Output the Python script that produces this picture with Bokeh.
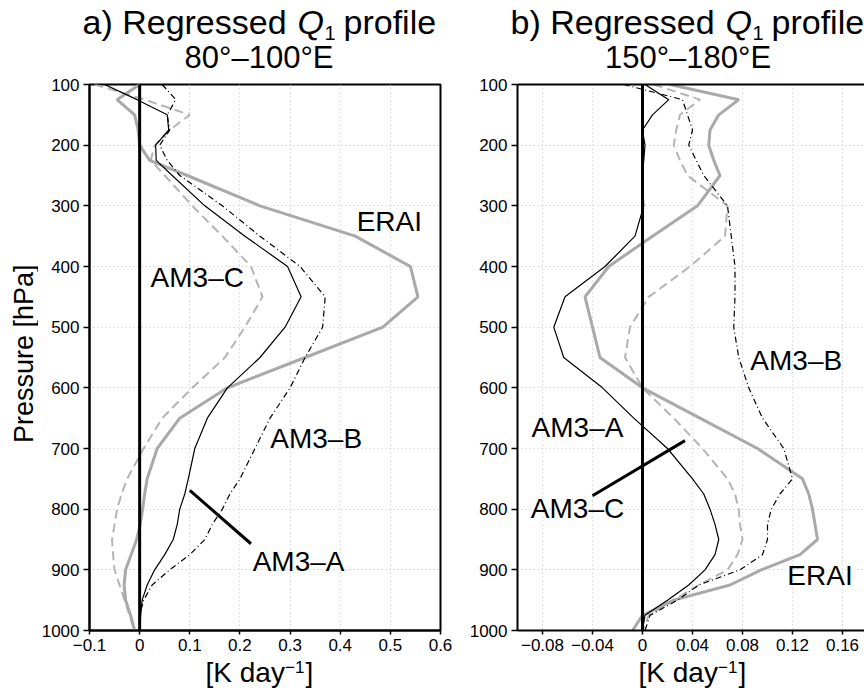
from bokeh.plotting import figure
from bokeh.models import Range1d, FixedTicker, Span, Label, LinearAxis
from bokeh.layouts import row, column
from bokeh.embed import file_html
from bokeh.resources import INLINE

# ---------------- data ----------------
P_LEVELS = [100, 125, 150, 175, 200, 225, 250, 300, 350, 400, 450, 500, 550, 600,
            650, 700, 750, 775, 800, 825, 850, 875, 900, 925, 950, 975, 1000]

# panel a) 80-100E
A_ERAI = [0.0, -0.045, -0.01, -0.003, 0.0, 0.02, 0.095, 0.24, 0.43, 0.54, 0.555, 0.485, 0.33, 0.175,
          0.08, 0.035, 0.015, 0.01, 0.006, 0.001, -0.006, -0.017, -0.028, -0.031, -0.028, -0.018, -0.01]
A_AM3A = [-0.07, -0.005, 0.055, 0.058, 0.032, 0.033, 0.065, 0.13, 0.21, 0.295, 0.322, 0.29, 0.24, 0.175,
          0.135, 0.11, 0.097, 0.09, 0.08, 0.075, 0.067, 0.05, 0.03, 0.015, 0.005, 0.002, 0.0]
A_AM3B = [0.045, 0.072, 0.055, 0.06, 0.04, 0.055, 0.08, 0.165, 0.24, 0.32, 0.37, 0.365, 0.33, 0.3,
          0.26, 0.23, 0.2, 0.18, 0.165, 0.145, 0.13, 0.1, 0.06, 0.025, 0.008, 0.0, 0.0]
A_AM3C = [-0.09, 0.01, 0.1, 0.06, 0.03, 0.022, 0.05, 0.105, 0.165, 0.222, 0.245, 0.21, 0.17, 0.105,
          0.045, 0.008, -0.025, -0.036, -0.045, -0.05, -0.055, -0.053, -0.05, -0.04, -0.03, -0.02, -0.01]

# panel b) 150-180E
B_ERAI = [0.022, 0.077, 0.061, 0.054, 0.053, 0.057, 0.062, 0.044, 0.008, -0.027, -0.046, -0.04, -0.034, 0.0,
          0.046, 0.092, 0.128, 0.133, 0.136, 0.138, 0.14, 0.126, 0.095, 0.07, 0.025, 0.0, -0.008]
B_AM3A = [0.002, 0.021, 0.008, 0.0, 0.002, 0.001, 0.0, 0.001, -0.006, -0.03, -0.062, -0.071, -0.063, -0.032,
          -0.007, 0.02, 0.04, 0.049, 0.054, 0.058, 0.061, 0.058, 0.05, 0.037, 0.02, 0.002, 0.0]
B_AM3B = [-0.015, 0.032, 0.036, 0.04, 0.037, 0.043, 0.049, 0.068, 0.071, 0.074, 0.074, 0.073, 0.077, 0.085,
          0.096, 0.113, 0.12, 0.11, 0.103, 0.1, 0.1, 0.096, 0.078, 0.045, 0.028, 0.006, 0.002]
B_AM3C = [0.009, 0.046, 0.03, 0.027, 0.025, 0.03, 0.036, 0.068, 0.066, 0.038, 0.005, -0.01, -0.014, 0.0,
          0.025, 0.048, 0.068, 0.074, 0.077, 0.078, 0.08, 0.076, 0.068, 0.045, 0.025, 0.005, 0.0]

# ticks
Y_TICKS = [100, 200, 300, 400, 500, 600, 700, 800, 900, 1000]
Y_LABELS = ["100", "200", "300", "400", "500", "600", "700", "800", "900", "1000"]
XA_TICKS = [-0.1, 0.0, 0.1, 0.2, 0.3, 0.4, 0.5, 0.6]
XA_LABELS = ["\u22120.1", "0", "0.1", "0.2", "0.3", "0.4", "0.5", "0.6"]
XB_TICKS = [-0.08, -0.04, 0.0, 0.04, 0.08, 0.12, 0.16]
XB_LABELS = ["\u22120.08", "\u22120.04", "0", "0.04", "0.08", "0.12", "0.16"]

FONT = "Liberation Sans"
GRAY = "#a9a9a9"
GRAY_D = "#b4b4b4"

TOP_H = 74
MAIN_H = 584
BOT_H = 35
YLAB_W = 38


def make_panel(width, border_left, border_right, xr, xticks, xlabels, framed):
    p = figure(width=width, height=MAIN_H, x_range=Range1d(*xr), y_range=Range1d(1000, 100),
               output_backend="svg", toolbar_location=None,
               min_border_left=border_left, min_border_right=border_right,
               min_border_top=84 - TOP_H, min_border_bottom=28)
    p.background_fill_color = "white"
    p.border_fill_color = "white"
    xa = p.xaxis[0]
    ya = p.yaxis[0]
    xa.ticker = FixedTicker(ticks=xticks)
    xa.major_label_overrides = dict(zip(xticks, xlabels))
    ya.ticker = FixedTicker(ticks=Y_TICKS)
    ya.major_label_overrides = dict(zip(Y_TICKS, Y_LABELS))
    for ax in (xa, ya):
        ax.axis_line_width = 2
        ax.axis_line_color = "black"
        ax.major_tick_line_width = 1.5
        ax.major_tick_in = 0
        ax.minor_tick_line_color = None
        ax.major_label_text_font = FONT
        ax.major_label_text_font_size = "17px"
        ax.major_label_text_color = "black"
    xa.major_tick_out = 4
    xa.major_label_standoff = 4
    ya.major_tick_out = 6
    ya.major_label_standoff = 4
    p.xgrid.grid_line_color = "#c4c4c4"
    p.ygrid.grid_line_color = "#c4c4c4"
    p.xgrid.grid_line_dash = "1 3"
    p.ygrid.grid_line_dash = "1 3"
    if framed:
        p.outline_line_color = "black"
        p.outline_line_width = 2
        p.outline_line_alpha = 1
    else:
        p.outline_line_color = None
        top = LinearAxis(ticker=FixedTicker(ticks=[]), major_tick_line_color=None,
                         major_tick_out=0, major_tick_in=0, major_label_standoff=0,
                         minor_tick_line_color=None, major_label_text_font_size="0px",
                         axis_line_width=2, axis_line_color="black")
        p.add_layout(top, "above")
    return p


def add_profiles(p, erai, am3a, am3b, am3c):
    p.line(am3c, P_LEVELS, line_color=GRAY_D, line_width=2, line_dash="9 5")
    p.line(erai, P_LEVELS, line_color=GRAY, line_width=3)
    p.line(am3b, P_LEVELS, line_color="black", line_width=1.2, line_dash="6 3 1 3")
    p.line(am3a, P_LEVELS, line_color="black", line_width=1.2)
    p.add_layout(Span(location=0, dimension="height", line_color="black", line_width=3))


def txt(p, x, y, text, size="28px", align="center", style="normal", angle=0):
    p.add_layout(Label(x=x, y=y, text=text, text_font=FONT, text_font_size=size, text_align=align,
                       text_baseline="middle", text_font_style=style,
                       text_color="black", angle=angle, angle_units="deg"))


def blank(width, height, xr, yr):
    # a text-only strip whose data coordinates are page pixels
    f = figure(width=width, height=height, x_range=Range1d(*xr), y_range=Range1d(*yr),
               output_backend="svg", toolbar_location=None, x_axis_type=None, y_axis_type=None,
               min_border=0)
    f.outline_line_color = None
    f.grid.visible = False
    f.background_fill_color = "white"
    f.border_fill_color = "white"
    return f


# ---------------- panel a ----------------
pa = make_panel(458 - YLAB_W, 89 - YLAB_W, 18, (-0.1, 0.6), XA_TICKS, XA_LABELS, True)
add_profiles(pa, A_ERAI, A_AM3A, A_AM3B, A_AM3C)
pa.line([0.1, 0.222], [769, 857], line_color="black", line_width=3)
txt(pa, 0.498, 325, "ERAI")
txt(pa, 0.115, 418, "AM3\u2013C")
txt(pa, 0.352, 683, "AM3\u2013B")
txt(pa, 0.317, 886, "AM3\u2013A")

# ---------------- panel b ----------------
pb = make_panel(406, 59, 0, (-0.1, 0.1776), XB_TICKS, XB_LABELS, False)
add_profiles(pb, B_ERAI, B_AM3A, B_AM3B, B_AM3C)
pb.line([-0.040, 0.034], [778, 687], line_color="black", line_width=3)
txt(pb, 0.123, 555, "AM3\u2013B")
txt(pb, -0.052, 665, "AM3\u2013A")
txt(pb, -0.052, 799, "AM3\u2013C")
txt(pb, 0.142, 909, "ERAI")

# ---------------- titles (page-pixel coordinates, text centres) ----------------
tfig = blank(864, TOP_H, (0, 864), (TOP_H, 0))
for x0, letter, region, rc in ((82, "a", "80\u00b0\u2013100\u00b0E", 258.5),
                               (510, "b", "150\u00b0\u2013180\u00b0E", 687.5)):
    txt(tfig, x0, 21.5, letter + ") Regressed", size="34px", align="left")
    txt(tfig, x0 + 215, 21.5, "Q", size="34px", align="left", style="italic")
    txt(tfig, x0 + 242, 32.5, "1", size="20px", align="left")
    txt(tfig, x0 + 261, 21.5, "profile", size="34px", align="left")
    txt(tfig, rc, 56.5, region, size="31px", align="center")

# ---------------- y label ----------------
yfig = blank(YLAB_W, MAIN_H, (0, YLAB_W), (TOP_H + MAIN_H, TOP_H))
txt(yfig, 23, 362, "Pressure [hPa]", size="27px", align="center", angle=90)

# ---------------- x labels ----------------
y0 = TOP_H + MAIN_H
xfig = blank(864, BOT_H, (0, 864), (y0 + BOT_H, y0))
for x0 in (205, 638):
    txt(xfig, x0, 672, "[K day", size="28px", align="left")
    txt(xfig, x0 + 79.5, 666.5, "\u22121", size="17px", align="left")
    txt(xfig, x0 + 100, 672, "]", size="28px", align="left")

layout = column(tfig, row(yfig, pa, pb), xfig)
open("out.html", "w").write(file_html(layout, INLINE))
